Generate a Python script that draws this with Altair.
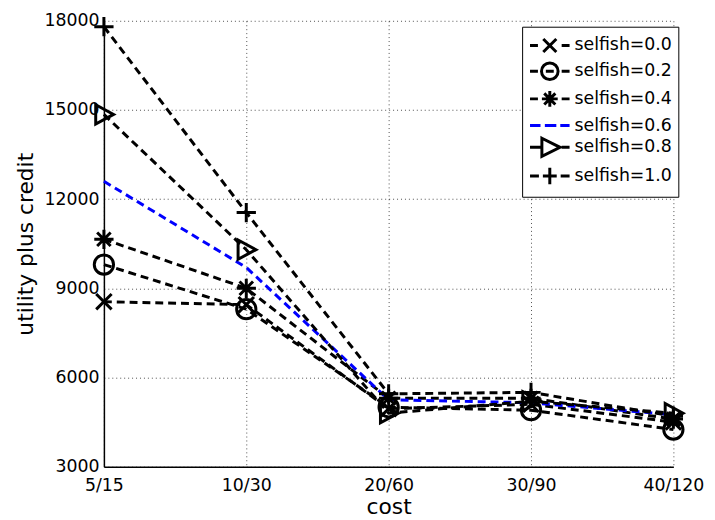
import altair as alt
import pandas as pd
import re

costs = ["5/15", "10/30", "20/60", "30/90", "40/120"]
series = ["selfish=0.0", "selfish=0.2", "selfish=0.4", "selfish=0.6", "selfish=0.8", "selfish=1.0"]
v00 = [8550, 8450, 4950, 5100, 4500]
v02 = [9800, 8300, 5000, 4900, 4250]
v04 = [10650, 9000, 5300, 5300, 4600]
v06 = [12600, 9700, 5250, 5150, 4750]
v08 = [14850, 10300, 4800, 5200, 4800]
v10 = [17800, 11550, 5450, 5500, 4700]
values = [v00, v02, v04, v06, v08, v10]
y_ticks = [3000, 6000, 9000, 12000, 15000, 18000]
line_colors = ["black", "black", "black", "#0000ff", "black", "black"]

rows = []
for s, vals, lc in zip(series, values, line_colors):
    for c, v in zip(costs, vals):
        rows.append({"cost": c, "series": s, "value": v, "lc": lc})
df = pd.DataFrame(rows)
pts = df[df["series"] != "selfish=0.6"]

# plot marker shapes (no marker for 0.6)
marker_series = ["selfish=0.0", "selfish=0.2", "selfish=0.4", "selfish=0.8", "selfish=1.0"]
marker_shapes = [
    "M-0.8,-0.8L0.8,0.8M-0.8,0.8L0.8,-0.8",
    "circle",
    "M-1,0L1,0M0,-1L0,1M-0.7,-0.7L0.7,0.7M-0.7,0.7L0.7,-0.7",
    "M-0.85,-1L1,0L-0.85,1Z",
    "M-1,0L1,0M0,-1L0,1",
]

# legend symbols: dashed line with marker, drawn in a [-1,1] box = 40px wide
leg_base = [
    "M-1,0L-0.6,0M0.6,0L1,0M-0.33,-0.33L0.33,0.33M-0.33,0.33L0.33,-0.33",
    "M-1,0L-0.6,0M-0.2,0L0.2,0M0.6,0L1,0M0.42,0A0.42,0.42 0 1,1 -0.42,0A0.42,0.42 0 1,1 0.42,0",
    "M-1,0L-0.6,0M0.6,0L1,0M-0.4,0L0.4,0M0,-0.4L0,0.4M-0.28,-0.28L0.28,0.28M-0.28,0.28L0.28,-0.28",
    "M-1,0L-0.47,0M-0.25,0L0.33,0M0.53,0L1,0",
    "M-1,0L-0.45,0M-0.4,-0.46L0.52,0L-0.4,0.46ZM0.6,0L1,0",
    "M-1,0L-0.55,0M-0.35,0L0.35,0M0.55,0L1,0M0,-0.42L0,0.42",
]
SYM = 23          # legend symbol nominal box (px), sets row height
K = 40.0 / SYM    # stretch so the drawn symbol is 40px wide


def _scale_path(p):
    # scale numbers except the arc flags
    out = []
    for tok in re.split(r"(A[^A-Za-z]*)", p):
        if tok.startswith("A"):
            n = tok[1:].split()
            r = [float(v) * K for v in n[0].split(",")]
            end = [float(v) * K for v in n[3].split(",")]
            out.append("A%g,%g %s %s %g,%g" % (r[0], r[1], n[1], n[2], end[0], end[1]))
        else:
            out.append(re.sub(r"-?\d+(\.\d+)?", lambda m: "%g" % (float(m.group()) * K), tok))
    return "".join(out)


leg_paths = [_scale_path(p) for p in leg_base]

FONT = "DejaVu Sans"

x = alt.X("cost:N", sort=costs, scale=alt.Scale(type="point", padding=0),
          axis=alt.Axis(title="cost", labelAngle=0, ticks=False, labelPadding=10,
                        titlePadding=3, grid=True))
y = alt.Y("value:Q", scale=alt.Scale(domain=[3000, 18000], nice=False, zero=False),
          axis=alt.Axis(title="utility plus credit", values=y_ticks, format="d",
                        ticks=False, labelPadding=5, titlePadding=7))

legend = alt.Legend(
    title=None, orient="none", legendX=423, legendY=6,
    strokeColor="black", fillColor="white", padding=6,
    labelFont=FONT, labelFontSize=17.5, labelColor="black",
    symbolOffset=9, labelOffset=12, symbolSize=SYM * SYM, symbolStrokeWidth=3,
    symbolOpacity=1, symbolFillColor="transparent", rowPadding=-11,
)

lines = alt.Chart(df).mark_line(strokeDash=[8, 5], strokeWidth=3).encode(
    x=x, y=y,
    color=alt.Color("lc:N", scale=None),
    detail="series:N",
)

points = alt.Chart(pts).mark_point(filled=False, size=380, strokeWidth=3, opacity=1).encode(
    x=x, y=y,
    shape=alt.Shape("series:N", scale=alt.Scale(domain=marker_series, range=marker_shapes),
                    legend=None),
    color=alt.value("black"),
)

legend_layer = alt.Chart(df).mark_point(filled=False, opacity=0).encode(
    x=x, y=y,
    color=alt.Color("series:N", sort=series,
                    scale=alt.Scale(domain=series, range=line_colors), legend=legend),
    shape=alt.Shape("series:N", sort=series,
                    scale=alt.Scale(domain=series, range=leg_paths), legend=legend),
)

chart = (lines + points + legend_layer).resolve_scale(
    shape="independent", color="independent"
).properties(
    width=576, height=451,
    autosize=alt.AutoSizeParams(type="none"),
    padding={"left": 97, "top": 10, "right": 34, "bottom": 51},
).configure_view(stroke=None).configure_axis(
    labelFont=FONT, labelFontSize=17.5, labelColor="black",
    titleFont=FONT, titleFontSize=22, titleFontWeight="normal", titleColor="black",
    domainColor="black", domainWidth=1.5,
    gridColor="black", gridDash=[1, 3], gridWidth=1, gridOpacity=0.7,
)

chart.save("out.html", embed_options={"renderer": "svg", "actions": False})
